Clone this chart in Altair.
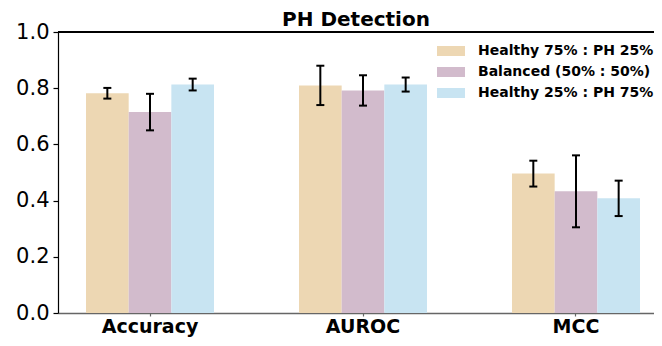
import altair as alt
import pandas as pd

metrics = ["Accuracy", "AUROC", "MCC"]
groups = ["Healthy 75% : PH 25%", "Balanced (50% : 50%)", "Healthy 25% : PH 75%"]
colors = ["#EDD7B3", "#D2BBCC", "#C8E4F2"]

h75_means = [0.782, 0.810, 0.496]
bal_means = [0.715, 0.792, 0.433]
h25_means = [0.813, 0.813, 0.408]

h75_errs = [0.019, 0.070, 0.046]
bal_errs = [0.065, 0.054, 0.128]
h25_errs = [0.021, 0.025, 0.063]

rows = []
for g, ms, es in zip(groups, [h75_means, bal_means, h25_means], [h75_errs, bal_errs, h25_errs]):
    for m, v, e in zip(metrics, ms, es):
        rows.append({"metric": m, "group": g, "mean": v, "lo": v - e, "hi": v + e})
df = pd.DataFrame(rows)

FONT = "DejaVu Sans"
W = 596        # visible plot width (page limit)
RANGE_W = 610  # full band-scale range as in the reference
H = 281

x_enc = alt.X(
    "metric:N", sort=metrics,
    scale=alt.Scale(range=[0, RANGE_W], paddingInner=0.399, paddingOuter=0.1315),
    axis=alt.Axis(title=None, labelAngle=0, labelFont=FONT, labelFontSize=19,
                  labelFontWeight="bold", labelColor="black", domainColor="#666666",
                  domainWidth=1.5, tickColor="#666666", tickSize=3, tickWidth=1.2,
                  labelPadding=1),
)
xo_enc = alt.XOffset("group:N", sort=groups, scale=alt.Scale(paddingInner=0, paddingOuter=0))

base = alt.Chart(df)

bars = base.mark_bar().encode(
    x=x_enc,
    xOffset=xo_enc,
    y=alt.Y("mean:Q", scale=alt.Scale(domain=[0, 1]),
            axis=alt.Axis(title=None, values=[0, 0.2, 0.4, 0.6, 0.8, 1.0], format=".1f",
                          labelFont=FONT, labelFontSize=21, labelColor="black",
                          domainColor="black", domainWidth=1.2, tickColor="black",
                          tickSize=5, tickWidth=1.2, labelPadding=4, grid=False)),
    color=alt.Color("group:N", sort=groups,
                    scale=alt.Scale(domain=groups, range=colors),
                    legend=alt.Legend(title=None, orient="none", legendX=386, legendY=12,
                                      symbolType="M-2.8,-1H2.8V1H-2.8Z", symbolSize=100,
                                      symbolStrokeWidth=0, symbolOpacity=1,
                                      labelFont=FONT, labelFontSize=14, labelFontWeight="bold",
                                      labelColor="black", labelOffset=20, rowPadding=7,
                                      labelLimit=400, padding=0)),
)

err = base.mark_rule(color="black", strokeWidth=2).encode(
    x=x_enc, xOffset=xo_enc, y="lo:Q", y2="hi:Q")
cap_lo = base.mark_tick(color="black", thickness=2, size=8, opacity=1).encode(
    x=x_enc, xOffset=xo_enc, y="lo:Q")
cap_hi = base.mark_tick(color="black", thickness=2, size=8, opacity=1).encode(
    x=x_enc, xOffset=xo_enc, y="hi:Q")

top_spine = alt.Chart(df).mark_rule(color="black", strokeWidth=1.2).encode(
    x=alt.value(0), x2=alt.value(W), y=alt.value(0))

chart = alt.layer(bars, err, cap_lo, cap_hi, top_spine).properties(
    width=W, height=H,
    title=alt.TitleParams("PH Detection", font=FONT, fontSize=20, fontWeight="bold",
                          anchor="middle", offset=-9, color="black", frame="group"),
    autosize=alt.AutoSizeParams(type="none"),
    padding={"left": 50, "top": 24, "right": 0, "bottom": 25},
).configure_view(stroke=None)

chart.save("out.html", embed_options={"renderer": "svg", "actions": False})
